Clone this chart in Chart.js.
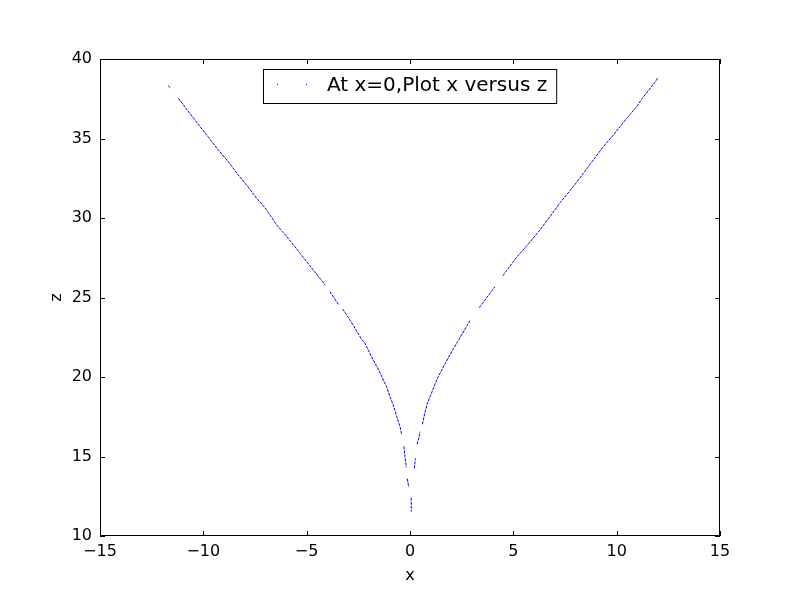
<!DOCTYPE html>
<html>
<head>
<meta charset="utf-8">
<script src="https://cdn.jsdelivr.net/npm/chart.js@4"></script>
<style>
html,body{margin:0;padding:0;background:#fff;}
#wrap{width:800px;height:596px;}
</style>
</head>
<body>
<div id="wrap"><canvas id="c" width="800" height="596"></canvas></div>
<script>
// ---- data (null = visible gap in the trace) ----
const leftX  = [-11.70,-11.60,null,-11.21,-10.16,-9.71,-9.28,-8.79,-8.31,-7.87,-7.42,-7.02,-6.45,-5.89,-5.32,-4.68,-4.11,null,-3.87,-3.47,null,-3.26,-2.90,-2.34,-2.18,-1.78,-1.49,-1.29,-1.13,-0.97,-0.81,-0.64,-0.48,-0.40,null,-0.30,-0.24,-0.18,null,-0.13,-0.06,null,0.06,0.06];
const leftZ  = [38.32,38.19,null,37.53,35.74,35.01,34.28,33.54,32.70,32.01,31.24,30.65,29.56,28.72,27.78,26.73,25.79,null,25.36,24.57,null,24.28,23.58,22.37,22.12,21.07,20.38,19.81,19.39,18.76,18.24,17.50,16.87,16.35,null,15.63,14.99,14.32,null,13.60,13.07,null,12.40,11.53];
const rightX = [0.21,0.26,null,0.34,0.44,0.48,null,0.60,0.73,0.84,0.97,1.10,1.21,1.37,1.69,2.02,2.26,2.90,null,3.35,4.11,null,4.49,5.16,5.61,6.29,6.97,7.26,7.90,8.39,8.87,9.35,9.84,10.16,10.49,10.97,11.21,11.37,11.53,11.85,12.01];
const rightZ = [14.25,14.88,null,15.77,16.23,16.56,null,17.03,17.82,18.35,18.76,19.18,19.54,20.02,20.82,21.59,22.12,23.54,null,24.36,25.68,null,26.37,27.53,28.19,29.25,30.44,30.96,31.97,32.81,33.65,34.48,35.22,35.74,36.27,37.00,37.47,37.74,38.01,38.53,38.85];
const xTicks = [-15,-10,-5,0,5,10,15];
const zTicks = [10,15,20,25,30,35,40];
const seriesLabel = "At x=0,Plot x versus z";
const xTitle = "x";
const zTitle = "z";

const pts = [];
leftX.forEach((x,i)=>pts.push({x: x, y: leftZ[i]}));
pts.push({x:null,y:null});
rightX.forEach((x,i)=>pts.push({x: x, y: rightZ[i]}));

const FONT = "'DejaVu Sans', sans-serif";
const minus = v => String(v).replace('-', '\u2212');

const framePlugin = {
  id: 'frame',
  afterDraw(chart) {
    const {ctx, chartArea: a, scales} = chart;
    ctx.save();
    ctx.strokeStyle = '#000';
    ctx.lineWidth = 1;
    ctx.strokeRect(Math.round(a.left)+0.5, Math.round(a.top)+0.5, Math.round(a.right-a.left)-1, Math.round(a.bottom-a.top)-1);
    const L = 5;
    ctx.beginPath();
    scales.x.ticks.forEach(t => {
      const px = Math.round(scales.x.getPixelForValue(t.value)) + 0.5;
      ctx.moveTo(px, a.bottom); ctx.lineTo(px, a.bottom - L);
      ctx.moveTo(px, a.top); ctx.lineTo(px, a.top + L);
    });
    scales.y.ticks.forEach(t => {
      const py = Math.round(scales.y.getPixelForValue(t.value)) + 0.5;
      ctx.moveTo(a.left, py); ctx.lineTo(a.left + L, py);
      ctx.moveTo(a.right, py); ctx.lineTo(a.right - L, py);
    });
    ctx.stroke();
    // legend
    const label = chart.data.datasets[0].label;
    ctx.font = "20px " + FONT;
    const tw = ctx.measureText(label).width;
    const w = tw + 73, h = 34;
    const cx = (a.left + a.right) / 2;
    const bx = Math.round(cx - w/2), by = Math.round(a.top) + 10;
    ctx.fillStyle = '#fff';
    ctx.fillRect(bx, by, w, h);
    ctx.strokeStyle = '#000';
    ctx.strokeRect(bx + 0.5, by + 0.5, w, h);
    ctx.fillStyle = '#0000ff';
    ctx.fillRect(bx + 14, by + 15, 1, 1);
    ctx.fillRect(bx + 43, by + 15, 1, 1);
    ctx.fillStyle = '#000';
    ctx.textBaseline = 'middle';
    ctx.textAlign = 'left';
    ctx.fillText(label, bx + 64, by + 17);
    ctx.restore();
  }
};

new Chart(document.getElementById('c'), {
  type: 'scatter',
  data: {
    datasets: [{
      label: seriesLabel,
      data: pts,
      showLine: true,
      spanGaps: false,
      borderColor: '#0000ff',
      backgroundColor: '#0000ff',
      borderWidth: 1,
      borderDash: [3, 1],
      pointRadius: 0,
      pointHoverRadius: 0
    }]
  },
  options: {
    responsive: false,
    animation: false,
    devicePixelRatio: 1,
    layout: { padding: { top: 59, right: 80, left: 0, bottom: 0 } },
    plugins: { legend: { display: false }, tooltip: { enabled: false } },
    scales: {
      x: {
        type: 'linear', min: -15, max: 15,
        afterBuildTicks: s => { s.ticks = xTicks.map(v => ({value: v})); },
        afterFit: s => { s.height = 60; },
        grid: { display: false },
        border: { display: false },
        ticks: { color: '#000', font: { family: FONT, size: 16 }, padding: -2, maxRotation: 0, callback: v => minus(v) },
        title: { display: true, text: xTitle, color: '#000', font: { family: FONT, size: 16 }, padding: { top: 0, bottom: 11 } }
      },
      y: {
        type: 'linear', min: 10, max: 40,
        afterBuildTicks: s => { s.ticks = zTicks.map(v => ({value: v})); },
        afterFit: s => { s.width = 100; },
        grid: { display: false },
        border: { display: false },
        ticks: { color: '#000', font: { family: FONT, size: 16 }, padding: 0, callback: v => minus(v) },
        title: { display: true, text: zTitle, color: '#000', font: { family: FONT, size: 16 }, padding: { top: 47, bottom: 0 } }
      }
    }
  },
  plugins: [framePlugin]
});
</script>
</body>
</html>
